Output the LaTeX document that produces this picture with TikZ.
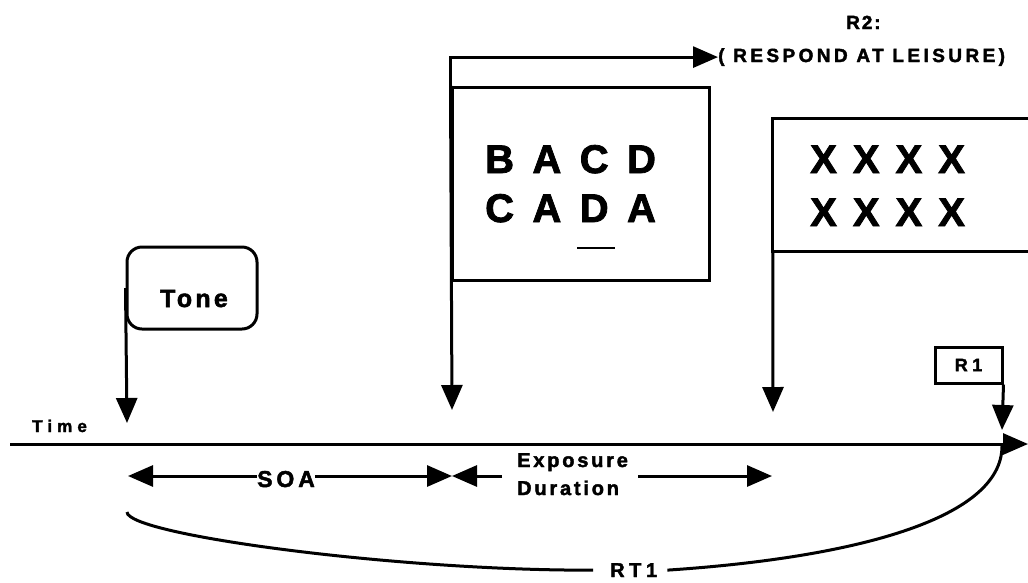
\documentclass[tikz,border=0pt]{standalone}
\usepackage{fontspec}
\newfontfamily\hvb{Liberation Sans Bold}
\usetikzlibrary{arrows.meta}
\newcommand\myfont[2]{\hvb\fontsize{#1}{#1}\selectfont\addfontfeature{LetterSpace=#2,FakeBold=2}}
\begin{document}
\begin{tikzpicture}[x=1pt,y=-1pt,
  ln/.style={line width=3pt},
  arr/.style={line width=3pt,-{Triangle[length=25pt,width=21pt]}},
  lbl/.style={inner sep=0pt,anchor=base west},
]
\useasboundingbox[fill=white] (0,0) rectangle (1028,582);

% time axis
\coordinate (ax0) at (10,444);
\coordinate (ax1) at (1028,444);
\draw[arr] (ax0) -- (ax1);
\node[lbl,font={\myfont{17}{30}}] (time) at (32,432) {Time};

% tone
\node[draw,ln,rounded corners=15pt,minimum width=130pt,minimum height=82pt,inner sep=0pt] (tone) at (192,288) {};
\node[lbl,font={\myfont{25}{13}}] (tonetxt) at (160,307) {Tone};
\coordinate (toneTip) at (127,423);
\draw[arr] (tone.west) -- (toneTip);

% display box
\node[draw,ln,minimum width=257pt,minimum height=193pt,inner sep=0pt] (disp) at (580.5,183.5) {};
\node[lbl,font={\myfont{40}{46}}] (row1) at (485,173) {BACD};
\node[lbl,font={\myfont{40}{46}}] (row2) at (485,222) {CADA};
\draw[line width=2pt] (577,248) -- (615,248);
\coordinate (dispTip) at (452,410);
\draw[arr] (disp.north west) -- (dispTip);

% R2
\node[lbl,font={\myfont{19}{18}}] (resp) at (718,62) {( RESPOND AT LEISURE)};
\node[lbl,font={\myfont{19}{10}}] (r2) at (846,29) {R2:};
\draw[arr] (disp.north west) |- (resp.west);

% mask box
\node[minimum width=259pt,minimum height=132pt,inner sep=0pt] (xb) at (902.5,185) {};
\draw[ln] (xb.north east) -- (xb.north west) -- (xb.south west) -- (xb.south east);
\node[lbl,font={\myfont{40}{40}}] (x1) at (810,173) {XXXX};
\node[lbl,font={\myfont{40}{40}}] (x2) at (810,226) {XXXX};
\coordinate (xTip) at (773,412);
\draw[arr] (xb.south west) -- (xTip);

% R1
\node[draw,ln,minimum width=67pt,minimum height=36pt,inner sep=0pt,font={\myfont{18}{25}}] (r1) at (968.5,365) {R1};
\coordinate (r1Tip) at (1002,430);
\draw[arr] (r1.south east) -- (r1Tip);

% SOA
\coordinate (s0) at (128,476);
\coordinate (s1) at (452,476);
\node[lbl,font={\myfont{23}{17}}] (soa) at (257,487) {SOA};
\draw[arr] (soa.west |- s0) -- (s0);
\draw[arr] (soa.east |- s0) -- (s1);

% exposure duration
\node[lbl,font={\myfont{20}{14}}] (exp1) at (517,467) {Exposure};
\node[lbl,font={\myfont{20}{14}}] (exp2) at (517,495) {Duration};
\coordinate (e1) at (772,476);
\draw[arr] ([xshift=-15pt]exp1.west |- s1) -- (s1);
\draw[arr] ([xshift=10pt]exp1.east |- e1) -- (e1);

% RT1
\node[lbl,font={\myfont{20}{23}}] (rt1) at (610,577) {RT1};
\coordinate (rtStart) at (127,512);
\coordinate (r1hit) at (1002,446);
\draw[ln] (rtStart) .. controls (127,535) and (400,571) .. ([xshift=-17pt]rt1.west);
\draw[ln] ([xshift=10pt]rt1.east) .. controls (850,558) and (1002,520) .. (r1hit);
\end{tikzpicture}
\end{document}
